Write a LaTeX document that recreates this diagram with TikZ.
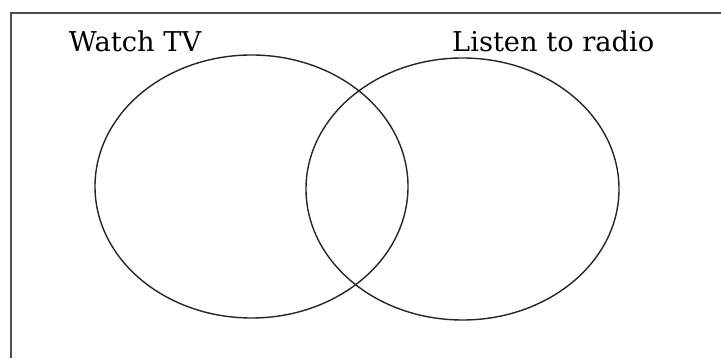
\documentclass[tikz,border=0pt]{standalone}
\usepackage{fontspec}
\setmainfont{DejaVu Serif}
\usepackage{tikz}
\usetikzlibrary{shapes.geometric}

\begin{document}
\begin{tikzpicture}[
		zbior/.style={ellipse, draw=black!85, line width=1pt, inner sep=0pt,
			minimum width=7.825cm, minimum height=6.575cm},
		etykieta/.style={anchor=base west, font=\fontsize{19.4}{22}\selectfont}
	]

		\useasboundingbox (0,0) rectangle (18.025,8.95);

		% Ramka (widoczna tylko lewa i gorna krawedz)
		\draw[black!70, line width=1.4pt] (0.275,0) |- (18.025,8.625);

		% Zbiory
		\node[zbior] (tv) at (6.2875,4.2875) {};
		\node[zbior, minimum height=6.55cm] (radio) at (11.5625,4.225) {};

		% Podpisy
		\node[etykieta] (tvlab) at (1.6,7.65) {Watch TV};
		\node[etykieta] (radiolab) at (11.18,7.65) {Listen to radio};

	\end{tikzpicture}
\end{document}
